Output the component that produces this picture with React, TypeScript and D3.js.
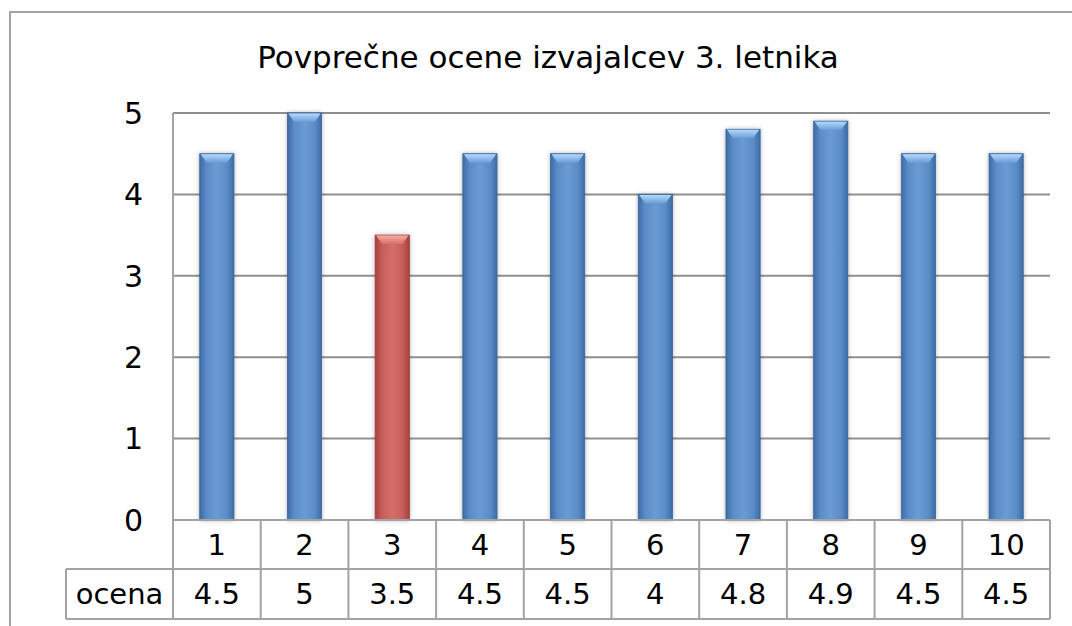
import { useMemo } from 'react';
import * as d3 from 'd3';

const title = 'Povprečne ocene izvajalcev 3. letnika';
const categories = ['1', '2', '3', '4', '5', '6', '7', '8', '9', '10'];
const ocena = [4.5, 5, 3.5, 4.5, 4.5, 4, 4.8, 4.9, 4.5, 4.5];
const tableLabels = ['4.5', '5', '3.5', '4.5', '4.5', '4', '4.8', '4.9', '4.5', '4.5'];
const seriesName = 'ocena';
const highlighted = ['3'];
const yTicks = [0, 1, 2, 3, 4, 5];

const W = 1072;
const H = 626;
const plot = { left: 173, right: 1050, top: 113, bottom: 520 };
const row1 = 569;
const row2 = 619;
const labelLeft = 66;
const font = '"DejaVu Sans", "Open Sans", sans-serif';
const lineCol = '#a3a3a3';

const App = () => {
  const x = useMemo(() => d3.scaleBand<string>().domain(categories).range([plot.left, plot.right]).padding(0), []);
  const y = useMemo(() => d3.scaleLinear().domain([0, 5]).range([plot.bottom, plot.top]), []);
  const bw = x.bandwidth() * 0.39;

  return (
    <svg width={W} height={H} style={{ position: 'absolute', left: 0, top: 0, background: '#fff' }} fontFamily={font}>
      <defs>
        <linearGradient id="blueBody" x1="0" x2="1" y1="0" y2="0">
          <stop offset="0" stopColor="#3d6ca5" />
          <stop offset="0.2" stopColor="#5a8cc8" />
          <stop offset="0.5" stopColor="#6a9bd3" />
          <stop offset="0.8" stopColor="#5a8cc8" />
          <stop offset="1" stopColor="#3d6ca5" />
        </linearGradient>
        <linearGradient id="redBody" x1="0" x2="1" y1="0" y2="0">
          <stop offset="0" stopColor="#a9423f" />
          <stop offset="0.2" stopColor="#c85e5a" />
          <stop offset="0.5" stopColor="#d46f6b" />
          <stop offset="0.8" stopColor="#c85e5a" />
          <stop offset="1" stopColor="#a9423f" />
        </linearGradient>
        <linearGradient id="blueCap" x1="0" x2="0" y1="0" y2="1">
          <stop offset="0" stopColor="#b3dafc" />
          <stop offset="1" stopColor="#6a9bd3" />
        </linearGradient>
        <linearGradient id="redCap" x1="0" x2="0" y1="0" y2="1">
          <stop offset="0" stopColor="#f7aaa6" />
          <stop offset="1" stopColor="#d46f6b" />
        </linearGradient>
        <filter id="shadow" x="-30%" y="-10%" width="160%" height="120%">
          <feDropShadow dx="0" dy="0" stdDeviation="2" floodColor="#000" floodOpacity="0.3" />
        </filter>
      </defs>

      {/* outer frame */}
      <rect x={10} y={12} width={W + 20} height={H + 20} fill="none" stroke={lineCol} strokeWidth={2} />

      <text x={548} y={68} textAnchor="middle" fontSize={31} fill="#000">{title}</text>

      {/* gridlines */}
      {yTicks.map((t) => (
        <line key={t} x1={plot.left} x2={plot.right} y1={y(t)} y2={y(t)} stroke="#8f8f8f" strokeWidth={2} />
      ))}
      {yTicks.map((t) => (
        <text key={'l' + t} x={143} y={y(t)} dy="0.36em" textAnchor="end" fontSize={30} fill="#000">{t}</text>
      ))}
      <line x1={plot.left} x2={plot.left} y1={plot.top} y2={row2} stroke={lineCol} strokeWidth={2} />

      {/* bars */}
      {categories.map((c, i) => {
        const red = highlighted.includes(c);
        const bx = (x(c) as number) + (x.bandwidth() - bw) / 2;
        const top = y(ocena[i]);
        const cap = 9;
        const inset = 7;
        return (
          <g key={c}>
            <rect x={bx} y={top} width={bw} height={plot.bottom - top} fill={red ? 'url(#redBody)' : 'url(#blueBody)'}
              stroke={red ? '#9c3d3a' : '#3a679c'} strokeWidth={0.8} filter="url(#shadow)" />
            <path
              d={`M${bx + 1},${top + 0.5}L${bx + bw - 1},${top + 0.5}L${bx + bw - inset},${top + cap}L${bx + inset},${top + cap}Z`}
              fill={red ? 'url(#redCap)' : 'url(#blueCap)'}
            />
          </g>
        );
      })}

      {/* data table */}
      <line x1={plot.left} x2={plot.right} y1={plot.bottom} y2={plot.bottom} stroke={lineCol} strokeWidth={2} />
      <line x1={labelLeft} x2={plot.right} y1={row1} y2={row1} stroke={lineCol} strokeWidth={2} />
      <line x1={labelLeft} x2={plot.right} y1={row2} y2={row2} stroke={lineCol} strokeWidth={2} />
      <line x1={labelLeft} x2={labelLeft} y1={row1} y2={row2} stroke={lineCol} strokeWidth={2} />
      {categories.map((c) => (
        <line key={'v' + c} x1={(x(c) as number) + x.bandwidth()} x2={(x(c) as number) + x.bandwidth()} y1={plot.bottom} y2={row2} stroke={lineCol} strokeWidth={2} />
      ))}
      {categories.map((c, i) => (
        <g key={'t' + c}>
          <text x={(x(c) as number) + x.bandwidth() / 2} y={(plot.bottom + row1) / 2} dy="0.36em" textAnchor="middle" fontSize={29} fill="#000">{c}</text>
          <text x={(x(c) as number) + x.bandwidth() / 2} y={(row1 + row2) / 2} dy="0.36em" textAnchor="middle" fontSize={29} fill="#000">{tableLabels[i]}</text>
        </g>
      ))}
      <text x={(labelLeft + plot.left) / 2} y={(row1 + row2) / 2} dy="0.36em" textAnchor="middle" fontSize={29} fill="#000">{seriesName}</text>
    </svg>
  );
};

export default App;
